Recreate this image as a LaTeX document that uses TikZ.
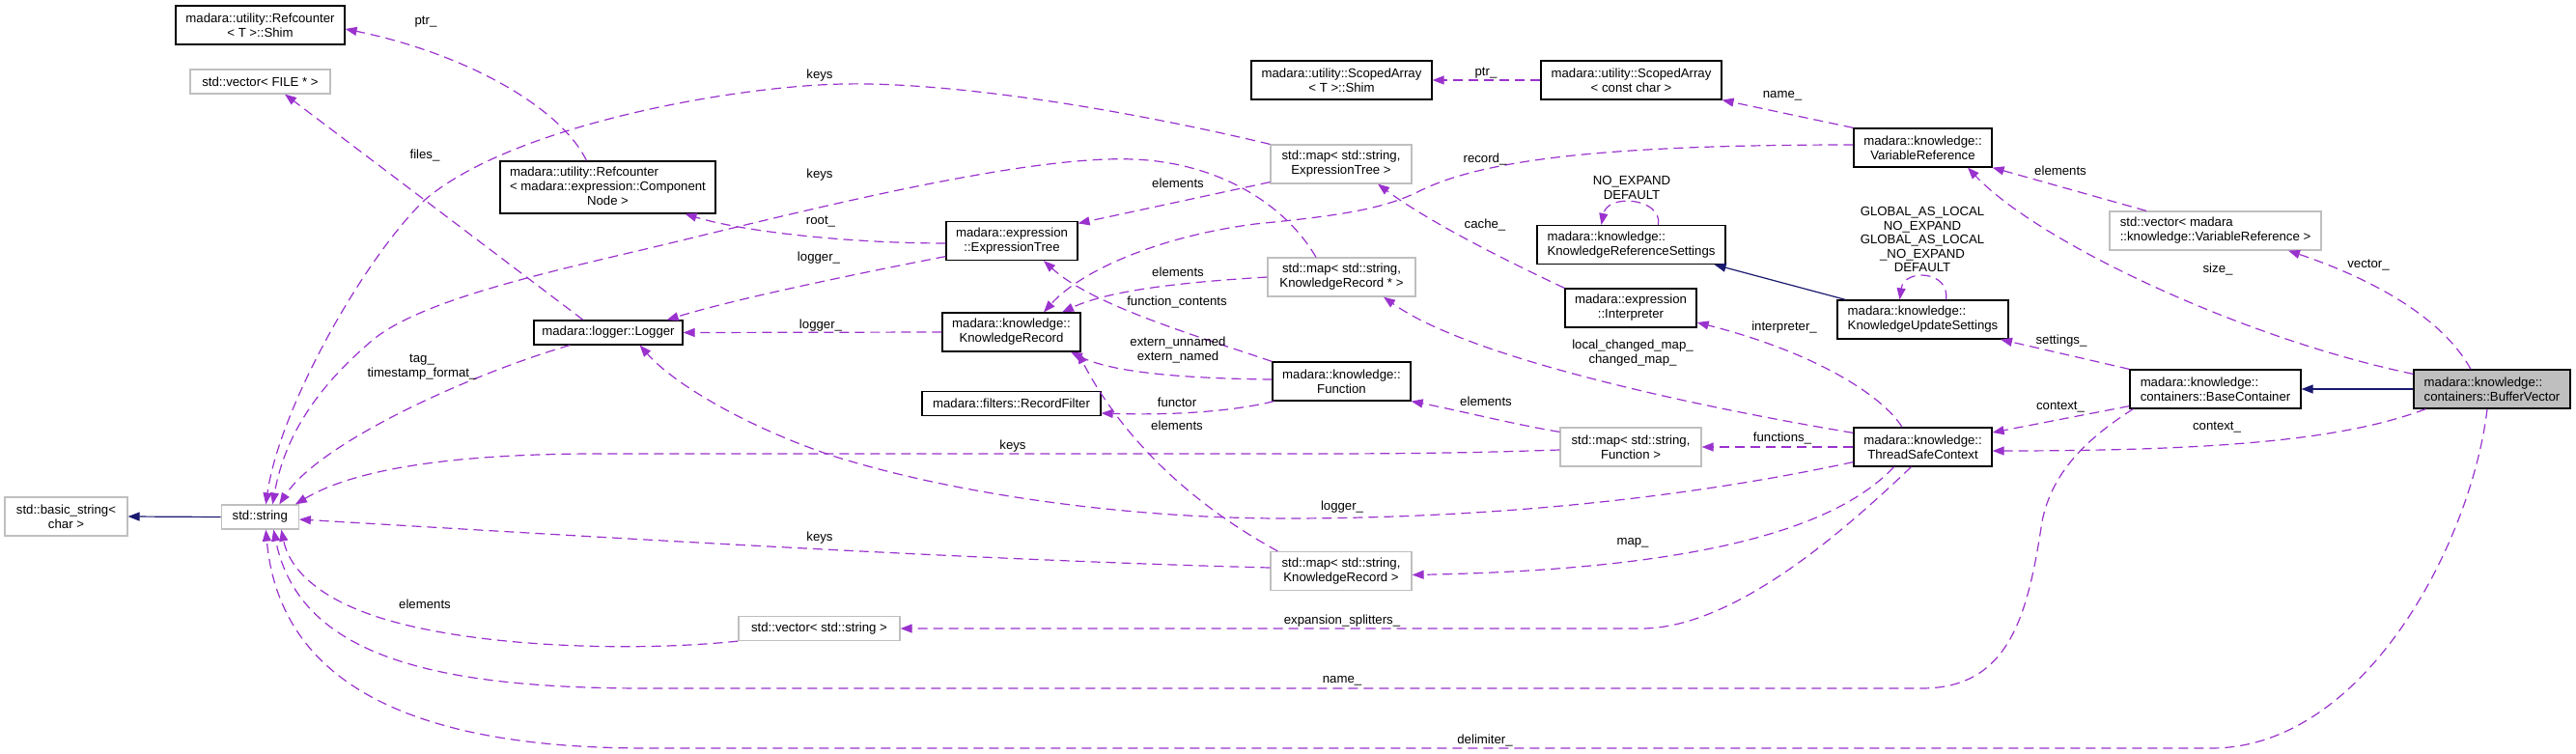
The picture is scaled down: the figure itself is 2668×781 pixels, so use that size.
\documentclass[tikz,border=0pt]{standalone}
\usepackage{fontspec}
\setmainfont{Liberation Sans}
\usetikzlibrary{arrows.meta}
\definecolor{depc}{HTML}{9A32CD}
\definecolor{inhc}{HTML}{191970}
\definecolor{grayb}{HTML}{BFBFBF}
\begin{document}
\begin{tikzpicture}[x=1pt,y=-1pt,
  font=\fontsize{13.2}{15}\selectfont,
  cls/.style={draw=black, fill=white, line width=1.2pt, inner sep=0pt},
  ext/.style={draw=grayb, fill=white, line width=1.2pt, inner sep=0pt},
  dep/.style={draw=depc, dash pattern=on 10pt off 6pt, line width=1.2pt, -{Triangle[length=12pt,width=9pt]}},
  inh/.style={draw=inhc, line width=1.2pt, -{Triangle[length=12pt,width=9pt]}},
  lbl/.style={inner sep=0pt, text=black}]
\useasboundingbox (0,0) rectangle (2668,781);

% ---------- nodes ----------
\node[cls, minimum width=175pt, minimum height=40pt, align=center] (shimT) at (269.5,26) {madara::utility::Refcounter\\< T >::Shim};
\node[ext, minimum width=145pt, minimum height=25pt] (vecFILE) at (269.5,84.5) {std::vector< FILE * >};
\node[cls, minimum width=223pt, minimum height=54pt] (refCN) at (629.5,194) {\begin{tabular}{@{}l@{}}madara::utility::Refcounter\\< madara::expression::Component\\\multicolumn{1}{@{}c@{}}{Node >}\end{tabular}};
\node[cls, minimum width=187pt, minimum height=40pt, align=center] (saShim) at (1389.5,83) {madara::utility::ScopedArray\\< T >::Shim};
\node[cls, minimum width=187pt, minimum height=40pt, align=center] (saCC) at (1689.5,83) {madara::utility::ScopedArray\\< const char >};
\node[cls, minimum width=143pt, minimum height=40pt, align=center] (varRef) at (1991.5,153) {madara::knowledge::\\VariableReference};
\node[ext, minimum width=219pt, minimum height=40pt, align=left] (vecVR) at (2294.5,239) {std::vector< madara\\::knowledge::VariableReference >};
\node[ext, minimum width=146pt, minimum height=40pt, align=center] (mapET) at (1389,170) {std::map< std::string,\\ExpressionTree >};
\node[cls, minimum width=195pt, minimum height=40pt, align=left] (krSet) at (1689.5,253.5) {madara::knowledge::\\KnowledgeReferenceSettings};
\node[cls, minimum width=136pt, minimum height=40pt, align=center] (exprTree) at (1048,249.5) {madara::expression\\::ExpressionTree};
\node[ext, minimum width=153pt, minimum height=40pt, align=center] (mapKRp) at (1389.5,287) {std::map< std::string,\\KnowledgeRecord * >};
\node[cls, minimum width=154pt, minimum height=25pt] (logger) at (630,344.5) {madara::logger::Logger};
\node[cls, minimum width=143pt, minimum height=40pt, align=center] (kRec) at (1047.5,344) {madara::knowledge::\\KnowledgeRecord};
\node[cls, minimum width=185pt, minimum height=25pt] (recFilt) at (1047.5,418) {madara::filters::RecordFilter};
\node[cls, minimum width=143pt, minimum height=40pt, align=center] (func) at (1389.5,395) {madara::knowledge::\\Function};
\node[cls, minimum width=136pt, minimum height=40pt, align=center] (interp) at (1689,319) {madara::expression\\::Interpreter};
\node[cls, minimum width=177pt, minimum height=40pt, align=left] (kuSet) at (1991.5,331) {madara::knowledge::\\KnowledgeUpdateSettings};
\node[ext, minimum width=146pt, minimum height=40pt, align=center] (mapFn) at (1689,463) {std::map< std::string,\\Function >};
\node[cls, minimum width=143pt, minimum height=40pt, align=center] (tsc) at (1991.5,463) {madara::knowledge::\\ThreadSafeContext};
\node[cls, minimum width=177pt, minimum height=40pt, align=left] (baseC) at (2294.5,403) {madara::knowledge::\\containers::BaseContainer};
\node[cls, fill=grayb, minimum width=162pt, minimum height=40pt, align=left] (bufV) at (2581,403) {madara::knowledge::\\containers::BufferVector};
\node[ext, minimum width=127pt, minimum height=40pt, align=center] (basicStr) at (68.5,535) {std::basic\_string<\\char >};
\node[ext, minimum width=80pt, minimum height=25pt] (stdStr) at (269.3,535.5) {std::string};
\node[ext, minimum width=146pt, minimum height=40pt, align=center] (mapKR) at (1389,591.5) {std::map< std::string,\\KnowledgeRecord >};
\node[ext, minimum width=167pt, minimum height=25pt] (vecStr) at (848.5,651) {std::vector< std::string >};

% ---------- connectors ----------
\draw[dep] ([xshift=-22pt]refCN.north) .. controls (580,110) and (480,55) .. ([yshift=-4pt]shimT.east);
\draw[dep] ([xshift=-26pt]logger.north) -- ([xshift=25.5pt]vecFILE.south);
\draw[dep] (mapET.north west) .. controls (1150,110) and (980,85) .. (874,87) .. controls (760,89) and (530,130) .. (440,207) .. controls (380,264) and (290,420) .. ([xshift=6pt]stdStr.north);
\draw[dep] ([xshift=-26.5pt]mapKRp.north) .. controls (1330,210) and (1260,168) .. (1173,165) .. controls (1050,160) and (780,232) .. (660,260) .. controls (540,288) and (430,315) .. (385,353) .. controls (330,400) and (295,450) .. ([xshift=13pt]stdStr.north);
\draw[dep] ([xshift=-40pt]logger.south) .. controls (480,390) and (330,460) .. ([xshift=20pt]stdStr.north);
\draw[dep] ([yshift=-2.5pt]exprTree.west) .. controls (880,252) and (770,240) .. ([xshift=80pt]refCN.south);
\draw[dep] ([yshift=4.5pt]exprTree.south west) .. controls (880,285) and (760,310) .. ([xshift=-17pt]logger.north east);
\draw[dep] (kRec.west) -- (logger.east);
\draw[dep] ([yshift=2pt]mapET.south west) -- ([yshift=-2.5pt]exprTree.north east);
\draw[dep] ([yshift=3pt]varRef.west) .. controls (1680,150) and (1540,163) .. (1470,198) .. controls (1430,218) and (1380,224) .. (1300,232) .. controls (1200,245) and (1120,280) .. ([xshift=33.5pt]kRec.north);
\draw[dep] (mapKRp.west) .. controls (1230,292) and (1150,300) .. ([xshift=52.5pt]kRec.north);
\draw[dep] (func.north west) .. controls (1230,345) and (1130,315) .. ([xshift=33pt]exprTree.south);
\draw[dep] ([yshift=2pt]func.west) .. controls (1220,392) and (1150,385) .. ([xshift=61.5pt]kRec.south);
\draw[dep] ([xshift=2pt]func.south west) .. controls (1270,428) and (1200,430) .. ([yshift=-10pt]recFilt.east);
\draw[dep] ([xshift=8pt]mapKR.north west) .. controls (1230,520) and (1160,450) .. ([xshift=68.5pt]kRec.south);
\draw[dep] ([yshift=3.5pt]mapKR.west) .. controls (1000,580) and (600,555) .. ([yshift=-2.5pt]stdStr.east);
\draw[dep] (vecStr.south west) .. controls (650,676) and (480,670) .. (385,637) .. controls (330,618) and (300,590) .. ([xshift=22pt]stdStr.south);
\draw[dep] ([xshift=4pt]baseC.south west) .. controls (2160,455) and (2125,490) .. (2115,540) .. controls (2100,640) and (2080,713) .. (1990,713) -- (670,713) .. controls (450,713) and (310,680) .. ([xshift=14pt]stdStr.south);
\draw[dep] ([xshift=-5pt]bufV.south) .. controls (2560,560) and (2450,775) .. (2290,775) -- (670,775) .. controls (430,775) and (290,710) .. ([xshift=6pt]stdStr.south);
\draw[dep] ([yshift=5pt]tsc.south west) .. controls (1750,515) and (1550,537) .. (1330,537) .. controls (1180,537) and (1000,515) .. (865,473) .. controls (780,445) and (700,400) .. ([xshift=-45pt]logger.south east);
\draw[dep] ([yshift=-6pt]tsc.north west) .. controls (1750,420) and (1520,370) .. ([xshift=43.5pt]mapKRp.south);
\draw[dep] ([xshift=-21.5pt]tsc.north) .. controls (1950,410) and (1880,365) .. ([yshift=-15pt]interp.east);
\draw[dep] (interp.north west) .. controls (1560,270) and (1480,230) .. ([xshift=38pt]mapET.south);
\draw[dep] (tsc.west) -- (mapFn.east);
\draw[dep] ([yshift=-5pt]mapFn.north west) .. controls (1570,440) and (1510,425) .. (func.south east);
\draw[dep] ([yshift=-3pt]mapFn.west) .. controls (1500,470) and (1420,470) .. (1330,470) -- (620,470) .. controls (450,470) and (360,490) .. ([xshift=-4pt]stdStr.north east);
\draw[dep] ([xshift=-30pt]tsc.south) .. controls (1900,550) and (1750,590) .. ([yshift=-4pt]mapKR.east);
\draw[dep] ([xshift=-12pt]tsc.south) .. controls (1920,540) and (1800,651) .. (1700,651) -- (vecStr.east);
\draw[inh] ([xshift=9pt]kuSet.north west) -- ([xshift=-12pt]krSet.south east);
\draw[dep] ([xshift=28pt]krSet.north) .. controls (1722,205) and (1665,200) .. ([xshift=-31pt]krSet.north);
\draw[dep] ([xshift=24pt]kuSet.north) .. controls (2020,280) and (1972,278) .. ([xshift=-24pt]kuSet.north);
\draw[dep] (varRef.north west) -- (saCC.south east);
\draw[dep] (saCC.west) -- (saShim.east);
\draw[dep] ([xshift=-71.5pt]vecVR.north) -- (varRef.south east);
\draw[dep] ([yshift=-5pt]bufV.north west) .. controls (2320,350) and (2110,250) .. ([xshift=46.5pt]varRef.south);
\draw[dep] ([xshift=-22pt]bufV.north) .. controls (2530,330) and (2460,290) .. ([xshift=75.5pt]vecVR.south);
\draw[dep] (baseC.north west) -- ([xshift=80.5pt]kuSet.south);
\draw[dep] ([yshift=3pt]baseC.south west) -- ([yshift=15pt]tsc.east);
\draw[dep] ([xshift=13pt]bufV.south west) .. controls (2430,455) and (2300,467) .. ([yshift=-4pt]tsc.east);
\draw[inh] (bufV.west) -- (baseC.east);
\draw[inh] (stdStr.west) -- (basicStr.east);

% ---------- labels ----------
\node[lbl] (l1) at (441,23) {ptr\_};
\node[lbl] (l2) at (440,161) {files\_};
\node[lbl] (l3) at (849,78) {keys};
\node[lbl] (l4) at (849,181) {keys};
\node[lbl, align=center] (l5) at (437,380) {tag\_\\timestamp\_format\_};
\node[lbl] (l6) at (850,230) {root\_};
\node[lbl] (l7) at (848,267) {logger\_};
\node[lbl] (l8) at (850,337) {logger\_};
\node[lbl] (l9) at (1220,190) {elements};
\node[lbl] (l10) at (1538,165) {record\_};
\node[lbl] (l11) at (1220,282) {elements};
\node[lbl] (l12) at (1219,313) {function\_contents};
\node[lbl, align=center] (l13) at (1220,363) {extern\_unnamed\\extern\_named};
\node[lbl] (l14) at (1219,417) {functor};
\node[lbl] (l15) at (1219,441) {elements};
\node[lbl] (l16) at (849,557) {keys};
\node[lbl] (l17) at (440,626) {elements};
\node[lbl] (l18) at (1390,705) {name\_};
\node[lbl] (l19) at (1538,767) {delimiter\_};
\node[lbl] (l20) at (1390,525) {logger\_};
\node[lbl, align=center] (l21) at (1691,366) {local\_changed\_map\_\\changed\_map\_};
\node[lbl] (l22) at (1848,339) {interpreter\_};
\node[lbl] (l23) at (1538,233) {cache\_};
\node[lbl] (l24) at (1846,454) {functions\_};
\node[lbl] (l25) at (1539,416) {elements};
\node[lbl] (l26) at (1049,462) {keys};
\node[lbl] (l27) at (1691,562) {map\_};
\node[lbl] (l28) at (1390,643) {expansion\_splitters\_};
\node[lbl, align=center] (l29) at (1690,194) {NO\_EXPAND\\DEFAULT};
\node[lbl, align=center, font=\fontsize{13.2}{14.5}\selectfont] (l30) at (1991,248) {GLOBAL\_AS\_LOCAL\\NO\_EXPAND\\GLOBAL\_AS\_LOCAL\\\_NO\_EXPAND\\DEFAULT};
\node[lbl] (l31) at (1846,99) {name\_};
\node[lbl] (l32) at (1539,76) {ptr\_};
\node[lbl] (l33) at (2134,177) {elements};
\node[lbl] (l34) at (2297,279) {size\_};
\node[lbl] (l35) at (2453,275) {vector\_};
\node[lbl] (l36) at (2135,353) {settings\_};
\node[lbl] (l37) at (2134,422) {context\_};
\node[lbl] (l38) at (2296,443) {context\_};
\end{tikzpicture}
\end{document}
